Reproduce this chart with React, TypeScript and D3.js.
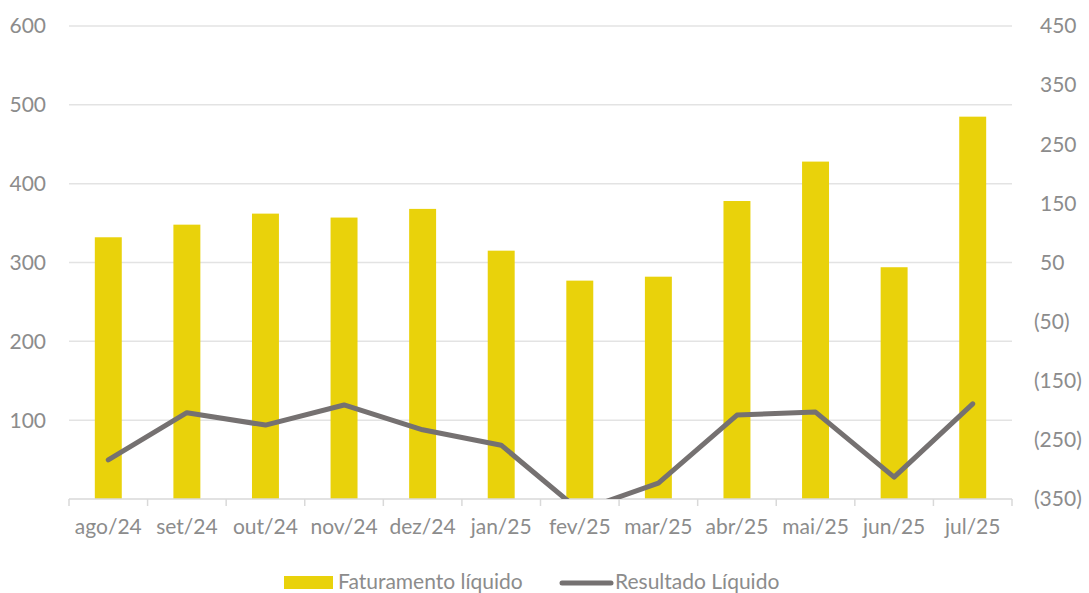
import React from "react";
import * as d3 from "d3";

const months = ["ago/24","set/24","out/24","nov/24","dez/24","jan/25","fev/25","mar/25","abr/25","mai/25","jun/25","jul/25"];
const faturamento = [332, 348, 362, 357, 368, 315, 277, 282, 378, 428, 294, 485];
const resultado = [-284, -204, -225, -191, -233, -259, -370, -323, -208, -203, -313, -189];
const leftTicks = [100, 200, 300, 400, 500, 600];
const rightTicks = [-350, -250, -150, -50, 50, 150, 250, 350, 450];
const seriesNames = ["Faturamento líquido", "Resultado Líquido"];

const W = 1089, H = 593;
const plot = { left: 69, right: 1012, top: 26, bottom: 499 };
const FONT = "Lato, 'Open Sans', sans-serif";
const FS = 21;
const TEXT = "#8c8c8c";
const YELLOW = "#E9D20B";
const GRAY = "#757171";
const GRID = "#e3e3e3";

export default function App() {
  const x = d3.scaleBand<string>().domain(months).range([plot.left, plot.right]).paddingInner(0.657).paddingOuter(0.3285);
  const step = x.step();
  const yL = d3.scaleLinear().domain([0, 600]).range([plot.bottom, plot.top]);
  const yR = d3.scaleLinear().domain([-350, 450]).range([plot.bottom, plot.top]);
  const line = d3.line<number>().x((_, i) => (x(months[i]) as number) + x.bandwidth() / 2).y(d => yR(d));
  const fmt = (v: number) => (v < 0 ? `(${Math.abs(v)})` : `${v}`);
  const boundaries = d3.range(months.length + 1).map(i => plot.left + i * step);

  return (
    <svg width={W} height={H} style={{ position: "absolute", left: 0, top: 0, background: "#fff" }} fontFamily={FONT}>
      <defs>
        <clipPath id="plotclip">
          <rect x={plot.left} y={plot.top - 10} width={plot.right - plot.left} height={plot.bottom - plot.top + 10} />
        </clipPath>
      </defs>
      {leftTicks.map(t => (
        <line key={t} x1={plot.left} x2={plot.right} y1={yL(t)} y2={yL(t)} stroke={GRID} strokeWidth={1.5} />
      ))}
      {leftTicks.map(t => (
        <text key={"l" + t} x={46} y={yL(t)} dy="0.35em" textAnchor="end" fontSize={FS} fill={TEXT}>{t}</text>
      ))}
      {rightTicks.map(t => (
        <text key={"r" + t} x={t < 0 ? 1034 : 1040} y={yR(t)} dy="0.35em" textAnchor="start" fontSize={FS} fill={TEXT}>{fmt(t)}</text>
      ))}
      {faturamento.map((v, i) => (
        <rect key={months[i]} x={x(months[i])} y={yL(v)} width={x.bandwidth()} height={yL(0) - yL(v)} fill={YELLOW} />
      ))}
      <line x1={plot.left} x2={plot.right} y1={plot.bottom} y2={plot.bottom} stroke="#d9d9d9" strokeWidth={1.5} />
      {boundaries.map((b, i) => (
        <line key={"b" + i} x1={b} x2={b} y1={plot.bottom} y2={plot.bottom + 7} stroke="#d9d9d9" strokeWidth={1.5} />
      ))}
      <path d={line(resultado) || ""} fill="none" stroke={GRAY} strokeWidth={5} strokeLinejoin="round" strokeLinecap="round" clipPath="url(#plotclip)" />
      {months.map(m => (
        <text key={"m" + m} x={(x(m) as number) + x.bandwidth() / 2} y={534} textAnchor="middle" fontSize={FS} fill={TEXT}>{m}</text>
      ))}
      <rect x={284} y={576} width={49} height={13} fill={YELLOW} />
      <text x={338} y={589} fontSize={FS} fill={TEXT}>{seriesNames[0]}</text>
      <line x1={562} x2={611} y1={583} y2={583} stroke={GRAY} strokeWidth={5} strokeLinecap="round" />
      <text x={615} y={589} fontSize={FS} fill={TEXT}>{seriesNames[1]}</text>
    </svg>
  );
}
